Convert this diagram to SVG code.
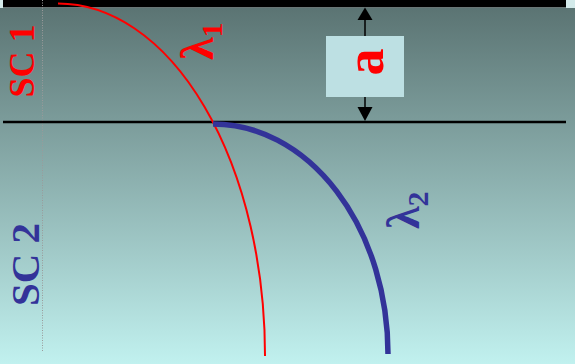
<svg xmlns="http://www.w3.org/2000/svg" width="575" height="364" viewBox="0 0 575 364">
<defs>
<linearGradient id="bg" x1="0" y1="8" x2="0" y2="364" gradientUnits="userSpaceOnUse">
<stop offset="0" stop-color="#5b7473"/>
<stop offset="1" stop-color="#c1f1ef"/>
</linearGradient>
<style>
.lbl{font-family:"Liberation Serif","DejaVu Serif",serif;font-weight:bold;}
.red{fill:#ff0000;}
.blue{fill:#333399;}
</style>
</defs>
<rect x="0" y="0" width="575" height="364" fill="#d3eaea"/>
<rect x="0" y="8" width="575" height="356" fill="url(#bg)"/>
<rect x="3" y="0" width="563" height="7.5" fill="#000"/>
<line x1="42.5" y1="0" x2="42.5" y2="351" stroke="#9a9a9a" stroke-width="1" stroke-dasharray="1,1.5"/>
<g id="connectors">
<line x1="3" y1="122" x2="566" y2="122" stroke="#000" stroke-width="2.5"/>
<path d="M58,3.5 A207,352 0 0 1 265,356" fill="none" stroke="#ff0000" stroke-width="2"/>
<path d="M213,124 A175,230 0 0 1 388,354" fill="none" stroke="#333399" stroke-width="5.5"/>
<line x1="365" y1="12" x2="365" y2="116" stroke="#000" stroke-width="1.5"/>
<polygon points="365,7.5 357.5,20 372.5,20" fill="#000"/>
<polygon points="365,121 357.5,107 372.5,107" fill="#000"/>
</g>
<g id="dimension-a">
<rect x="326" y="36" width="78" height="61" fill="#bde0e3"/>
<text class="lbl red" transform="translate(383,62) rotate(-90)" text-anchor="middle" font-size="54">a</text>
</g>
<g id="sc1">
<text class="lbl red" transform="translate(34,61) rotate(-90)" text-anchor="middle" font-size="36">SC 1</text>
</g>
<g id="sc2">
<text class="lbl blue" transform="translate(39,264.5) rotate(-90)" text-anchor="middle" font-size="41">SC 2</text>
</g>
<g id="lambda1">
<text class="lbl red" transform="translate(213,60) rotate(-90)" font-size="46">λ<tspan font-size="30" dy="9">1</tspan></text>
</g>
<g id="lambda2">
<text class="lbl blue" transform="translate(419,229) rotate(-90)" font-size="46">λ<tspan font-size="30" dy="9">2</tspan></text>
</g>
</svg>
